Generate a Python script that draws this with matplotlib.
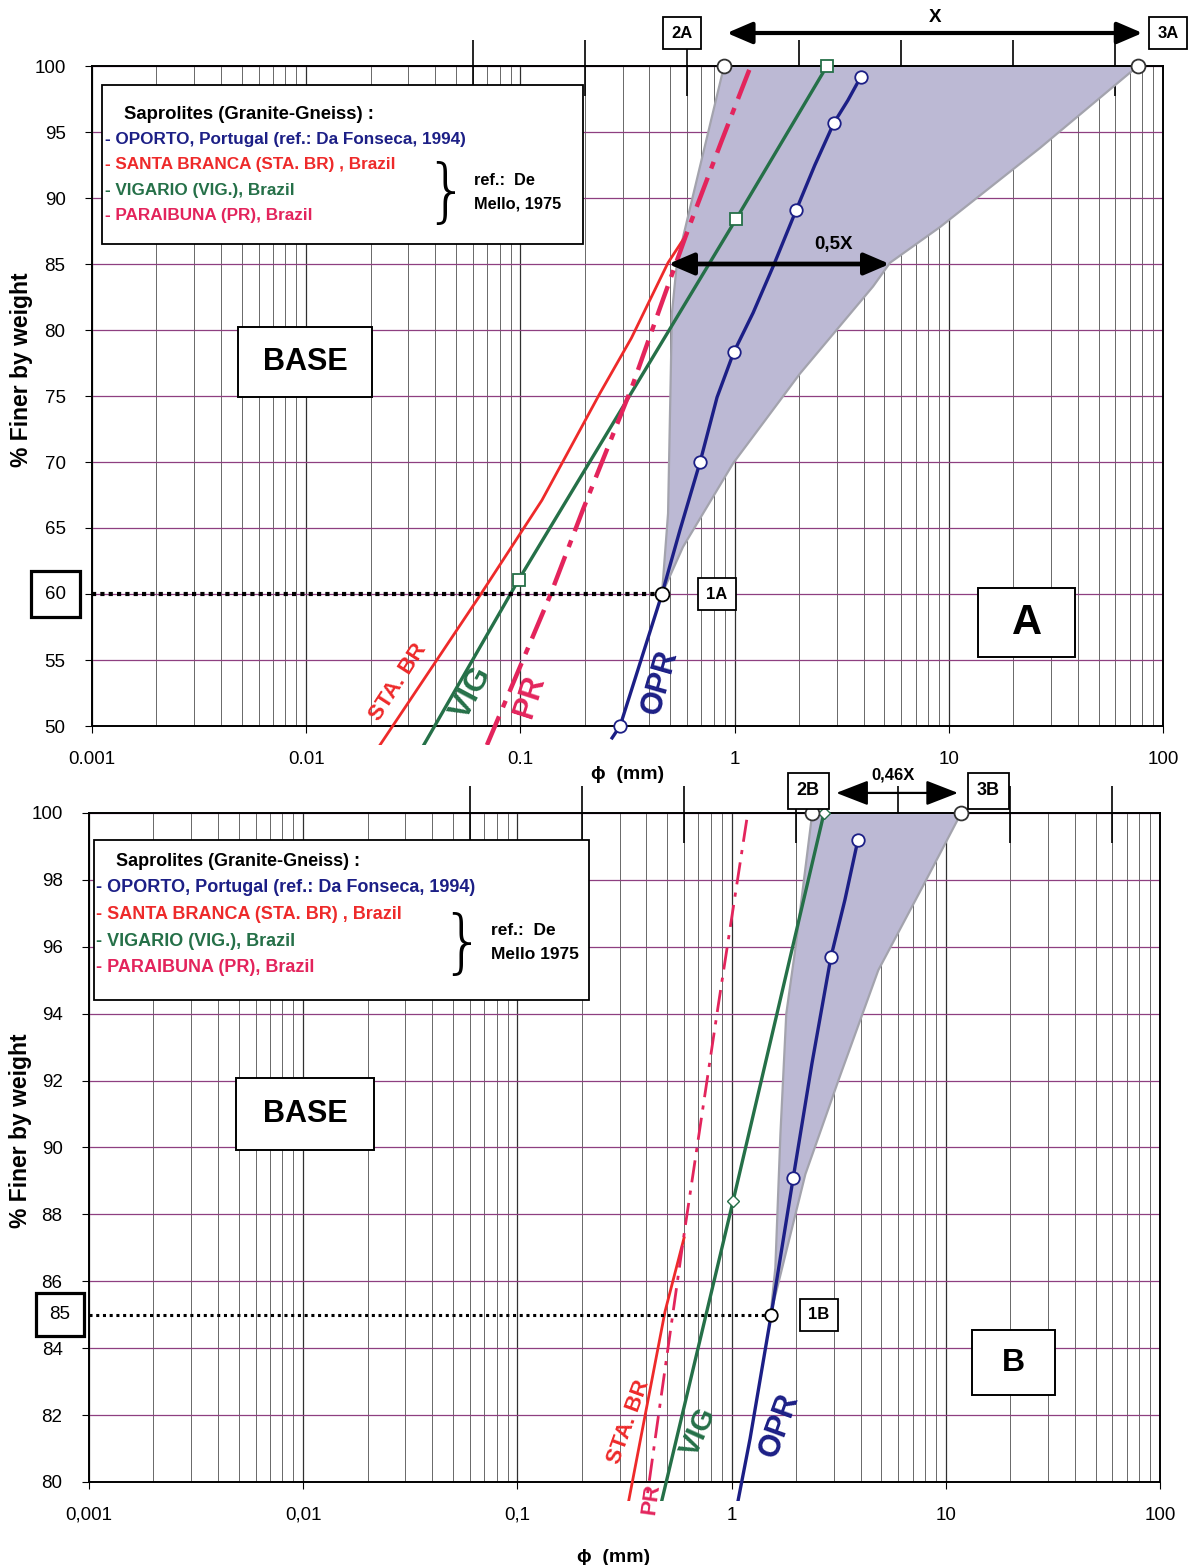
"""
Grain size envelopes of granite-gneiss saprolites (panels A and B).
"""

import numpy as np
import matplotlib
matplotlib.use("Agg")
import matplotlib.pyplot as plt
from matplotlib.patches import Rectangle
from matplotlib.ticker import FixedLocator, NullFormatter, LogLocator
from matplotlib.transforms import blended_transform_factory

plt.rcParams['font.family'] = ['Liberation Sans', 'DejaVu Sans']

# ---- data: particle size (mm) vs % finer ----
opr_line_d = [0.268, 0.292, 0.458, 0.556, 0.69, 0.828, 0.99, 1.22, 1.53, 1.94, 2.37, 2.91, 3.38, 3.89]
opr_line_p = [49.1, 50, 60, 64.85, 70, 74.9, 78.3, 81.3, 85.0, 89.1, 92.5, 95.7, 97.4, 99.2]
opr_mark_d = [0.292, 0.458, 0.69, 0.99, 1.94, 2.91, 3.89]
opr_mark_p = [50, 60, 70, 78.3, 89.1, 95.7, 99.2]

sta_d = [0.0221, 0.0648, 0.126, 0.235, 0.33, 0.489, 0.60]
sta_p = [48.56, 59.9, 67.1, 75.2, 79.4, 85.1, 87.3]

vig_d = [0.0355, 0.098, 1.016, 2.70]
vig_p = [48.6, 61.06, 88.4, 100]

pr_d = [0.0698, 0.137, 0.196, 0.332, 0.449, 0.606, 0.864, 1.19]
pr_p = [48.56, 59.8, 66.4, 75.7, 81.7, 87.6, 94.2, 100]

# envelope A (from point 1A)
envA_left_d = [0.458, 0.489, 0.51, 0.538, 0.893]
envA_left_p = [60, 66.1, 81.3, 85.1, 100]
envA_right_d = [0.458, 0.574, 0.984, 2.02, 4.43, 5.32, 9.1, 26.7, 76.4]
envA_right_p = [60, 63.56, 69.9, 76.7, 83.3, 85.1, 87.8, 93.8, 100]

# envelope B (from point 1B)
envB_left_d = [1.52, 1.60, 1.69, 1.80, 1.99, 2.38]
envB_left_p = [85, 86.4, 90.4, 94.0, 96.0, 100]
envB_right_d = [1.52, 2.21, 3.15, 4.84, 8.1, 11.8]
envB_right_p = [85, 89.2, 92.0, 95.3, 98.0, 100]

half_x_ends = [0.49, 5.3]          # 0,5X arrow at 85 %
b_arrow_ends = [3.08, 11.4]        # 0,46X arrow
class_ticks = [0.06, 0.2, 0.6, 2, 6, 20, 60]

top_xlabels = ["0.001", "0.01", "0.1", "1", "10", "100"]
bot_xlabels = ["0,001", "0,01", "0,1", "1", "10", "100"]

C_OPR = '#1c1f86'
C_STA = '#ee2a2a'
C_VIG = '#257048'
C_PR = '#e3245c'
C_ENV = '#a3a3ad'
C_FILL = '#bcb9d4'
BOX = dict(boxstyle='square,pad=0.5', fc='white', ec='black', lw=1.3)


def setup_axes(ax, ymin, ystep, xlabels, hide_label=None):
    ax.set_xscale('log')
    ax.set_xlim(1e-3, 100)
    ax.set_ylim(ymin, 100)
    ax.xaxis.set_major_locator(FixedLocator([1e-3, 1e-2, 1e-1, 1, 10, 100]))
    ax.xaxis.set_minor_locator(LogLocator(base=10, subs=np.arange(2, 10)))
    ax.xaxis.set_minor_formatter(NullFormatter())
    ax.set_xticklabels(xlabels)
    yt = np.arange(ymin, 100.1, ystep)
    ax.set_yticks(yt)
    ax.set_yticklabels(['' if v == hide_label else '%d' % v for v in yt])
    ax.tick_params(axis='both', which='major', labelsize=13.5, length=5, direction='out')
    ax.tick_params(axis='x', which='minor', length=0)
    ax.tick_params(axis='y', pad=14)
    ax.tick_params(axis='x', pad=13)
    ax.grid(which='minor', axis='x', color='#505050', lw=0.6)
    ax.grid(which='major', axis='x', color='#303030', lw=0.9)
    ax.grid(which='major', axis='y', color='#8e3f80', lw=0.9)
    ax.set_axisbelow(True)
    for s in ax.spines.values():
        s.set_linewidth(1.4)
    # classification ticks sticking out above the frame
    ax.vlines(class_ticks, 0.955, 1.04, transform=ax.get_xaxis_transform(),
              color='black', lw=1.2, clip_on=False, zorder=1)
    ax.set_ylabel('% Finer by weight', fontsize=16.5, fontweight='bold')
    ax.set_xlabel('\u03d5  (mm)', fontsize=14, fontweight='bold')


def clipped(ax, lines, below):
    rect = Rectangle((0, -below), 1, 1 + below, transform=ax.transAxes)
    for ln in lines:
        ln.set_clip_path(rect)


def boxed(ax, x0, y0, w, h, txt, fs):
    ax.add_patch(Rectangle((x0, y0), w, h, transform=ax.transAxes, fc='white',
                           ec='black', lw=1.4, zorder=6))
    ax.text(x0 + w / 2, y0 + h / 2, txt, transform=ax.transAxes, ha='center',
            va='center', fontsize=fs, fontweight='bold', zorder=7)


def legend_block(ax, x0, y0, w, h, rows, ref, tx, ty, dy, bx, by, fs, title_fs):
    ax.add_patch(Rectangle((x0, y0), w, h, transform=ax.transAxes, fc='white',
                           ec='black', lw=1.3, zorder=6))
    ax.text(tx + 0.018, ty, 'Saprolites (Granite-Gneiss) :', transform=ax.transAxes,
            fontsize=title_fs, fontweight='bold', color='black', va='center', zorder=7)
    for i, (txt, col) in enumerate(rows):
        ax.text(tx, ty - dy * (i + 1), txt, transform=ax.transAxes, fontsize=fs,
                fontweight='bold', color=col, va='center', zorder=7)
    ax.text(bx, by, '}', transform=ax.transAxes, fontsize=50, color='black',
            va='center', ha='center', fontweight='light', zorder=7,
            family='DejaVu Sans')
    ax.text(bx + 0.026, by + 0.022, ref[0], transform=ax.transAxes, fontsize=fs - 0.5,
            fontweight='bold', va='center', zorder=7)
    ax.text(bx + 0.026, by - 0.014, ref[1], transform=ax.transAxes, fontsize=fs - 0.5,
            fontweight='bold', va='center', zorder=7)


fig = plt.figure(figsize=(11.91, 15.65), dpi=100)
axA = fig.add_axes([92 / 1191, 1 - 726 / 1565, 1071 / 1191, 660 / 1565])
axB = fig.add_axes([89 / 1191, 1 - 1482 / 1565, 1071 / 1191, 669 / 1565])

# ------------------------------------------------------------------ panel A
ax = axA
setup_axes(ax, 50, 5, top_xlabels, hide_label=60)
ax.yaxis.set_label_coords(-0.055, 0.54)
ax.xaxis.set_label_coords(0.5, -0.06)

ax.fill(envA_left_d + envA_right_d[::-1], envA_left_p + envA_right_p[::-1],
        color=C_FILL, lw=0, zorder=2)
ln = []
ln += ax.plot(envA_left_d, envA_left_p, color=C_ENV, lw=1.6, zorder=3)
ln += ax.plot(envA_right_d, envA_right_p, color=C_ENV, lw=1.6, zorder=3)
ln += ax.plot(sta_d, sta_p, color=C_STA, lw=2.0, zorder=4)
ln += ax.plot(vig_d, vig_p, color=C_VIG, lw=2.4, zorder=4)
ln += ax.plot(pr_d, pr_p, color=C_PR, lw=3.2, dashes=[7, 2.2, 1.6, 2.2], zorder=4)
ln += ax.plot(opr_line_d, opr_line_p, color=C_OPR, lw=2.4, zorder=4)
clipped(ax, ln, 0.029)

ax.plot(vig_d[1:], vig_p[1:], 's', ms=9, mfc='white', mec=C_VIG, mew=1.3,
        zorder=5, clip_on=False)
ax.plot(opr_mark_d, opr_mark_p, 'o', ms=9, mfc='white', mec=C_OPR, mew=1.3,
        zorder=5, clip_on=False)
ax.plot([envA_left_d[-1], envA_right_d[-1]], [100, 100], 'o', ms=10, mfc='white',
        mec='#333333', mew=1.3, zorder=6, clip_on=False)

# dotted 60 % line up to 1A
ax.plot([1e-3, envA_left_d[0]], [60, 60], color='black', lw=3, ls=(0, (1, 1)), zorder=4)
ax.plot([envA_left_d[0]], [60], 'o', ms=10, mfc='white', mec='black', mew=1.3, zorder=6)

bt = blended_transform_factory(ax.transAxes, ax.transData)
ax.text(-0.034, 60, '60', transform=bt, ha='center', va='center', fontsize=13.5,
        bbox=dict(boxstyle='square,pad=0.75', fc='white', ec='black', lw=2.3))

ax.annotate('1A', (envA_left_d[0], 60), xytext=(55, 0), textcoords='offset pixels',
            ha='center', va='center', fontsize=12, fontweight='bold', bbox=BOX)
ax.annotate('2A', (envA_left_d[-1], 100), xytext=(-42, 33), textcoords='offset pixels',
            ha='center', va='center', fontsize=12, fontweight='bold', bbox=BOX,
            annotation_clip=False, zorder=8)
ax.annotate('3A', (envA_right_d[-1], 100), xytext=(30, 33), textcoords='offset pixels',
            ha='center', va='center', fontsize=12, fontweight='bold', bbox=BOX,
            annotation_clip=False, zorder=8)

ax.annotate('', xy=(envA_right_d[-1] * 1.05, 102.5), xytext=(envA_left_d[-1] * 1.03, 102.5),
            arrowprops=dict(arrowstyle='<|-|>,head_length=0.7,head_width=0.3', color='black',
                            lw=3.0, mutation_scale=22, shrinkA=0, shrinkB=0),
            annotation_clip=False)
ax.text(np.sqrt(envA_left_d[-1] * envA_right_d[-1]) * 1.04, 103.7, 'X', ha='center',
        va='center', fontsize=13.5, fontweight='bold', clip_on=False)

ax.annotate('', xy=(half_x_ends[1], 85), xytext=(half_x_ends[0], 85),
            arrowprops=dict(arrowstyle='<|-|>,head_length=0.7,head_width=0.3', color='black',
                            lw=3.4, mutation_scale=22, shrinkA=0, shrinkB=0), zorder=6)
ax.text(2.9, 86.5, '0,5X', ha='center', va='center', fontsize=13.5, fontweight='bold',
        zorder=6)

boxed(ax, 0.1363, 0.4985, 0.1251, 0.106, 'BASE', 22)
boxed(ax, 0.8273, 0.1045, 0.0906, 0.1045, 'A', 30)

ax.text(0.0268, 53.3, 'STA. BR', color=C_STA, fontsize=16, fontweight='bold',
        rotation=57, ha='center', va='center', rotation_mode='anchor', zorder=5)
ax.text(0.0594, 52.5, 'VIG', color=C_VIG, fontsize=23, fontweight='bold',
        rotation=62, ha='center', va='center', rotation_mode='anchor', zorder=5)
ax.text(0.111, 52.2, 'PR', color=C_PR, fontsize=22, fontweight='bold',
        rotation=72, ha='center', va='center', rotation_mode='anchor', zorder=5)
ax.text(0.449, 53.3, 'OPR', color=C_OPR, fontsize=22, fontweight='bold',
        rotation=74, ha='center', va='center', rotation_mode='anchor', zorder=5)

rowsA = [('- OPORTO, Portugal (ref.: Da Fonseca, 1994)', C_OPR),
         ('- SANTA BRANCA (STA. BR) , Brazil', C_STA),
         ('- VIGARIO (VIG.), Brazil', C_VIG),
         ('- PARAIBUNA (PR), Brazil', C_PR)]
legend_block(ax, 0.0093, 0.730, 0.449, 0.241, rowsA, ('ref.:  De', 'Mello, 1975'),
             0.012, 0.927, 0.0385, 0.331, 0.805, 12.3, 13.3)

# ------------------------------------------------------------------ panel B
ax = axB
setup_axes(ax, 80, 2, bot_xlabels)
ax.yaxis.set_label_coords(-0.053, 0.525)
ax.xaxis.set_label_coords(0.49, -0.1)

ax.fill(envB_left_d + envB_right_d[::-1], envB_left_p + envB_right_p[::-1],
        color=C_FILL, lw=0, zorder=2)
ln = []
ln += ax.plot(envB_left_d, envB_left_p, color=C_ENV, lw=1.6, zorder=3)
ln += ax.plot(envB_right_d, envB_right_p, color=C_ENV, lw=1.6, zorder=3)
ln += ax.plot(sta_d, sta_p, color=C_STA, lw=2.0, zorder=4)
ln += ax.plot(vig_d, vig_p, color=C_VIG, lw=2.4, zorder=4)
ln += ax.plot(pr_d, pr_p, color=C_PR, lw=2.0, dashes=[8, 3, 1.5, 3], zorder=4)
ln += ax.plot(opr_line_d, opr_line_p, color=C_OPR, lw=2.4, zorder=4)
clipped(ax, ln, 0.028)

ax.plot(vig_d[2:], vig_p[2:], 'D', ms=6, mfc='white', mec=C_VIG, mew=1.0,
        zorder=5, clip_on=False)
mask = [p > 85 for p in opr_mark_p]
ax.plot([d for d, m in zip(opr_mark_d, mask) if m], [p for p, m in zip(opr_mark_p, mask) if m],
        'o', ms=9, mfc='white', mec=C_OPR, mew=1.3, zorder=5, clip_on=False)
ax.plot([envB_left_d[-1], envB_right_d[-1]], [100, 100], 'o', ms=10, mfc='white',
        mec='#333333', mew=1.3, zorder=6, clip_on=False)

ax.plot([1e-3, envB_left_d[0]], [85, 85], color='black', lw=2.2, ls=(0, (1, 1.2)), zorder=4)
ax.plot([envB_left_d[0]], [85], 'o', ms=9, mfc='white', mec='black', mew=1.3, zorder=6)

bt = blended_transform_factory(ax.transAxes, ax.transData)
ax.text(-0.027, 85, '85', transform=bt, ha='center', va='center', fontsize=13.5,
        bbox=dict(boxstyle='square,pad=0.7', fc='white', ec='black', lw=2.3))

ax.annotate('1B', (envB_left_d[0], 85), xytext=(48, 0), textcoords='offset pixels',
            ha='center', va='center', fontsize=12, fontweight='bold', bbox=BOX)
ax.annotate('2B', (envB_left_d[-1], 100), xytext=(-4, 22), textcoords='offset pixels',
            ha='center', va='center', fontsize=13, fontweight='bold', bbox=BOX,
            annotation_clip=False, zorder=8)
ax.annotate('3B', (envB_right_d[-1], 100), xytext=(27, 22), textcoords='offset pixels',
            ha='center', va='center', fontsize=13, fontweight='bold', bbox=BOX,
            annotation_clip=False, zorder=8)

ax.annotate('', xy=(b_arrow_ends[1], 100.6), xytext=(b_arrow_ends[0], 100.6),
            arrowprops=dict(arrowstyle='<|-|>,head_length=0.9,head_width=0.35', color='black',
                            lw=1.6, mutation_scale=22, shrinkA=0, shrinkB=0),
            annotation_clip=False)
ax.text(5.7, 101.15, '0,46X', ha='center', va='center', fontsize=12, fontweight='bold',
        clip_on=False)

boxed(ax, 0.1373, 0.4963, 0.1289, 0.1076, 'BASE', 22)
boxed(ax, 0.8245, 0.130, 0.0775, 0.097, 'B', 23)

ax.text(0.33, 81.8, 'STA. BR', color=C_STA, fontsize=16, fontweight='bold',
        rotation=70, ha='center', va='center', rotation_mode='anchor', zorder=5)
ax.text(0.423, 79.5, 'PR', color=C_PR, fontsize=16, fontweight='bold',
        rotation=82, ha='center', va='center', rotation_mode='anchor', zorder=5,
        clip_on=False)
ax.text(0.70, 81.5, 'VIG', color=C_VIG, fontsize=21, fontweight='bold',
        rotation=66, ha='center', va='center', rotation_mode='anchor', zorder=5)
ax.text(1.67, 81.7, 'OPR', color=C_OPR, fontsize=22, fontweight='bold',
        rotation=70, ha='center', va='center', rotation_mode='anchor', zorder=5)

rowsB = [('- OPORTO, Portugal (ref.: Da Fonseca, 1994)', C_OPR),
         ('- SANTA BRANCA (STA. BR) , Brazil', C_STA),
         ('- VIGARIO (VIG.), Brazil', C_VIG),
         ('- PARAIBUNA (PR), Brazil', C_PR)]
legend_block(ax, 0.005, 0.72, 0.462, 0.24, rowsB, ('ref.:  De', 'Mello 1975'),
             0.007, 0.928, 0.0398, 0.349, 0.802, 13, 13)

fig.savefig('out.png', dpi=100)
